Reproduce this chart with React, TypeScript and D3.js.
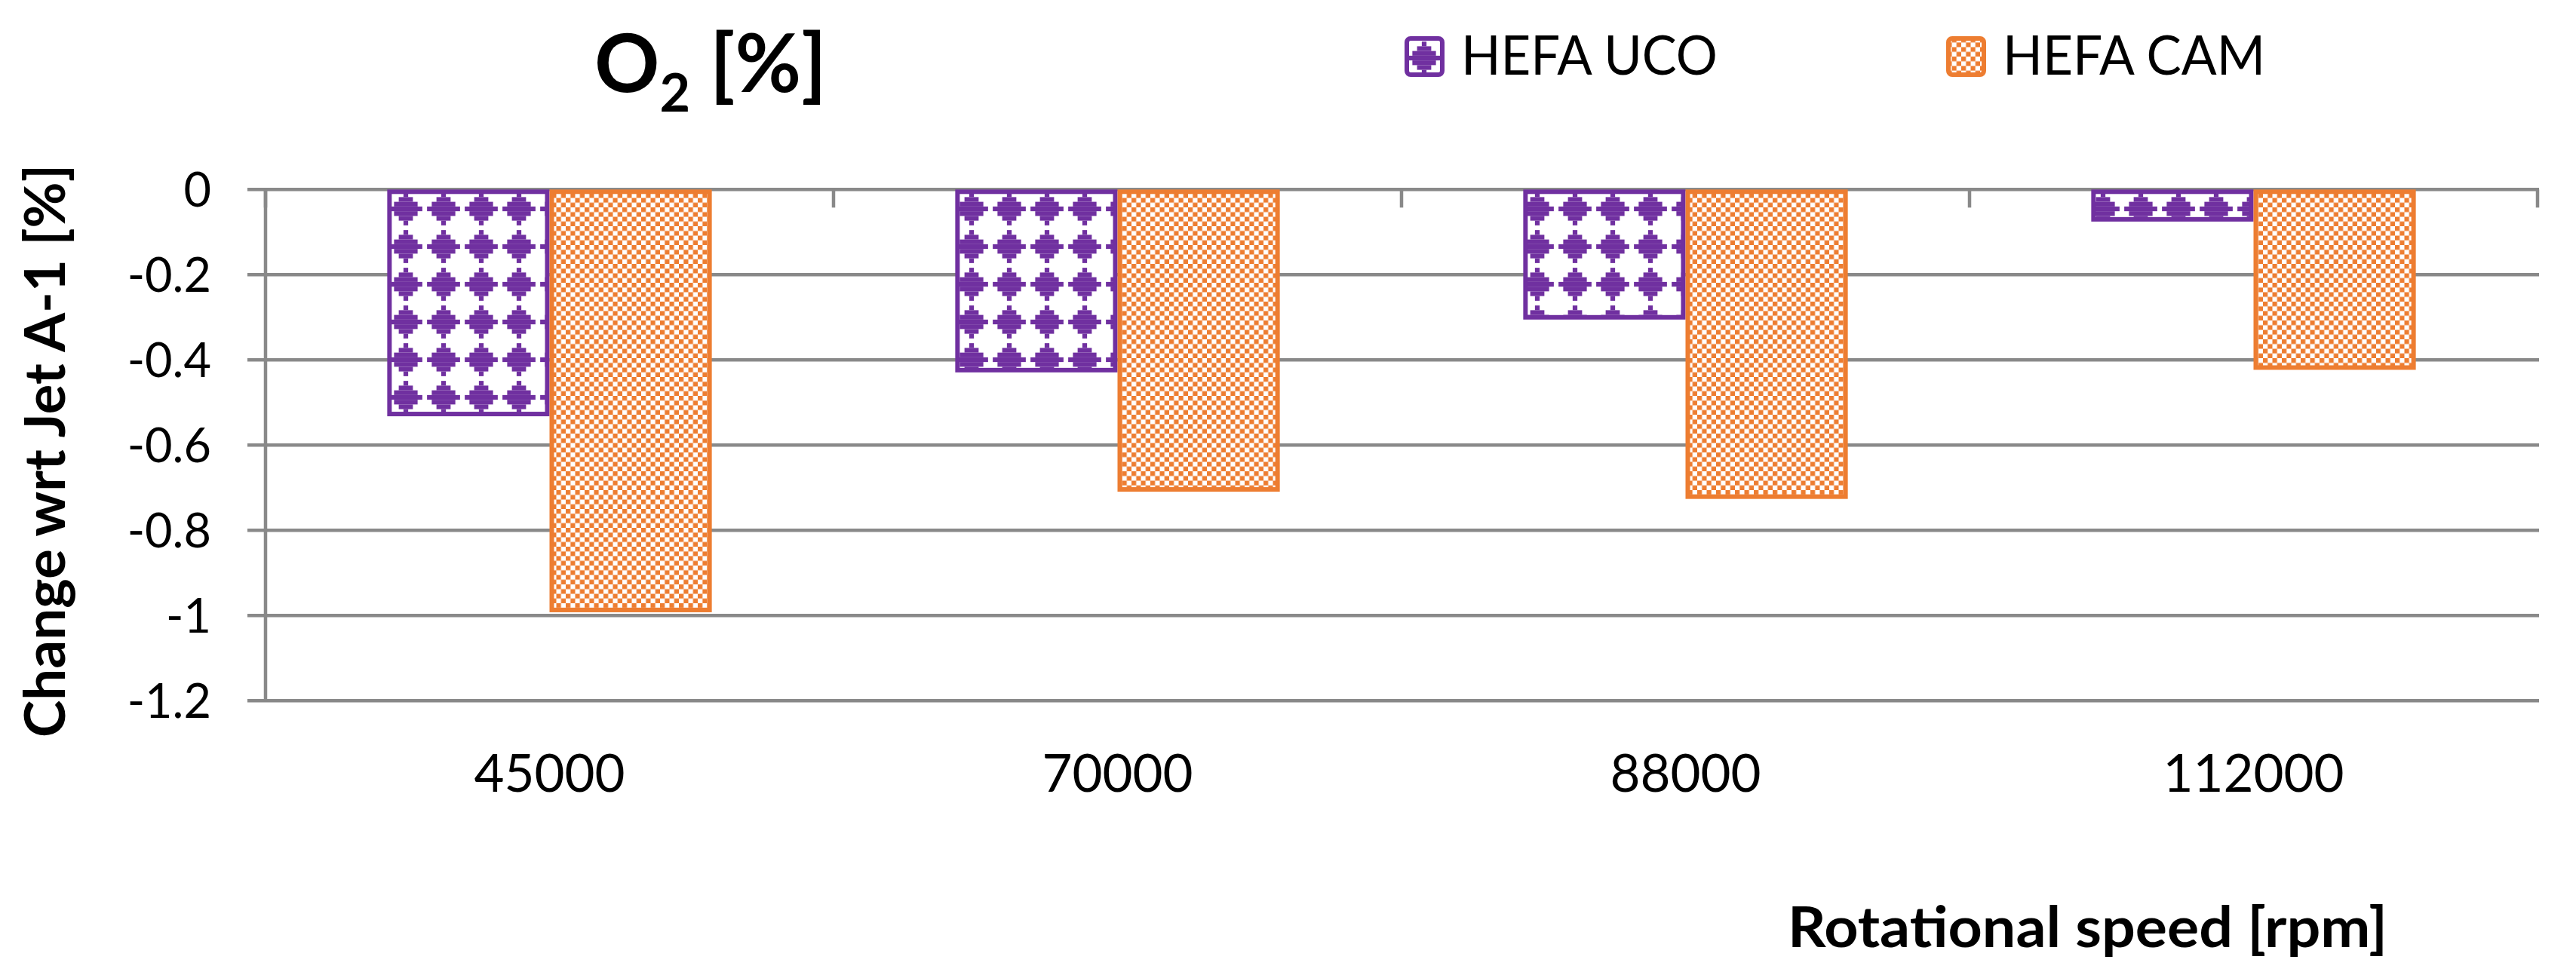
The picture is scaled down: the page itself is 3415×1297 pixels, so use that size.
import * as d3 from "d3";
import { useEffect, useRef } from "react";

const categories = ["45000", "70000", "88000", "112000"];
const seriesNames = ["HEFA UCO", "HEFA CAM"];
const hefaUco = [-0.527, -0.424, -0.3, -0.07];
const hefaCam = [-0.987, -0.704, -0.721, -0.418];
const yTicks = [0, -0.2, -0.4, -0.6, -0.8, -1, -1.2];

const W = 3415;
const H = 1297;
const PURPLE = "#7030A0";
const ORANGE = "#ED7D31";
const GRID = "#898989";
const FONT = "Lato, 'Open Sans', sans-serif";

const App = () => {
    const svgRef = useRef(null);

    useEffect(() => {
        const svg = d3.select(svgRef.current);
        svg.selectAll("*").remove();

        const x = d3.scaleBand().domain(categories).range([352, 3364]).padding(0);
        const xs = d3.scaleBand().domain(seriesNames).range([0, x.bandwidth()])
            .paddingInner(0).paddingOuter(0.75);
        const y = d3.scaleLinear().domain([0, -1.2]).range([251.3, 929.3]);

        // patterns
        const defs = svg.append("defs");
        const bit = 6.25;
        const dia = defs.append("pattern")
            .attr("id", "diamonds")
            .attr("patternUnits", "userSpaceOnUse")
            .attr("x", 13).attr("y", 2)
            .attr("width", bit * 8).attr("height", bit * 8);
        dia.append("rect").attr("width", bit * 8).attr("height", bit * 8).attr("fill", "#fff");
        [1, 3, 5, 7, 5, 3, 1].forEach((w, r) => {
            dia.append("rect")
                .attr("x", bit * 4 - (w * bit) / 2)
                .attr("y", bit * 0.5 + r * bit)
                .attr("width", w * bit)
                .attr("height", bit)
                .attr("fill", PURPLE);
        });

        const chk = defs.append("pattern")
            .attr("id", "checker")
            .attr("patternUnits", "userSpaceOnUse")
            .attr("width", bit * 2).attr("height", bit * 2);
        chk.append("rect").attr("width", bit * 2).attr("height", bit * 2).attr("fill", "#fff");
        chk.append("rect").attr("width", bit).attr("height", bit).attr("fill", ORANGE);
        chk.append("rect").attr("x", bit).attr("y", bit).attr("width", bit).attr("height", bit).attr("fill", ORANGE);

        const x0 = x.range()[0];
        const x1 = x.range()[1] + 2;

        // gridlines
        svg.append("g")
            .selectAll("line")
            .data(yTicks)
            .enter()
            .append("line")
            .attr("x1", x0 - 24)
            .attr("x2", x1)
            .attr("y1", d => y(d))
            .attr("y2", d => y(d))
            .attr("stroke", GRID)
            .attr("stroke-width", 4.5);

        // y axis line
        svg.append("line")
            .attr("x1", x0).attr("x2", x0)
            .attr("y1", y(0)).attr("y2", y(-1.2))
            .attr("stroke", GRID).attr("stroke-width", 4.5);

        // category ticks on the zero line
        const bounds = categories.map(c => x(c)).concat([x.range()[1]]);
        svg.append("g")
            .selectAll("line")
            .data(bounds)
            .enter()
            .append("line")
            .attr("x1", d => d).attr("x2", d => d)
            .attr("y1", y(0)).attr("y2", y(0) + 24)
            .attr("stroke", GRID).attr("stroke-width", 4.5);

        // bars
        const series = [
            { name: seriesNames[0], values: hefaUco, color: PURPLE, fill: "url(#diamonds)" },
            { name: seriesNames[1], values: hefaCam, color: ORANGE, fill: "url(#checker)" }
        ];
        series.forEach(s => {
            svg.append("g")
                .selectAll("rect")
                .data(categories)
                .enter()
                .append("rect")
                .attr("x", (c) => x(c) + xs(s.name) + 3)
                .attr("y", y(0) + 3)
                .attr("width", xs.bandwidth() - 6)
                .attr("height", (c, i) => y(s.values[i]) - y(0) - 3)
                .attr("fill", s.fill)
                .attr("stroke", s.color)
                .attr("stroke-width", 6);
        });

        // y tick labels
        svg.append("g")
            .selectAll("text")
            .data(yTicks)
            .enter()
            .append("text")
            .attr("x", 280)
            .attr("y", d => y(d))
            .attr("dy", "0.36em")
            .attr("text-anchor", "end")
            .style("font-family", FONT)
            .style("font-size", "63px")
            .text(d => String(+d.toFixed(1)));

        // x tick labels
        svg.append("g")
            .selectAll("text")
            .data(categories)
            .enter()
            .append("text")
            .attr("x", d => x(d) + x.bandwidth() / 2)
            .attr("y", 1050)
            .attr("text-anchor", "middle")
            .style("font-family", FONT)
            .style("font-size", "69px")
            .text(d => d);

        // title
        const title = svg.append("text")
            .attr("x", 788)
            .attr("y", 122)
            .style("font-family", FONT)
            .style("font-weight", "bold")
            .style("font-size", "107px");
        title.append("tspan").text("O");
        title.append("tspan").attr("dy", 26).style("font-size", "70px").text("2");
        title.append("tspan").attr("dy", -26).text(" [%]");

        // legend
        const legendX = [1862, 2580];
        const legendLen = [340, 348];
        series.forEach((s, i) => {
            svg.append("rect")
                .attr("x", legendX[i] + 3)
                .attr("y", 51)
                .attr("width", 47)
                .attr("height", 48)
                .attr("rx", 5)
                .attr("fill", s.fill)
                .attr("stroke", s.color)
                .attr("stroke-width", 6);
            svg.append("text")
                .attr("x", legendX[i] + 75)
                .attr("y", 99)
                .attr("textLength", legendLen[i])
                .attr("lengthAdjust", "spacingAndGlyphs")
                .style("font-family", FONT)
                .style("font-size", "72px")
                .text(s.name);
        });

        // axis titles
        svg.append("text")
            .attr("x", 2370)
            .attr("y", 1256)
            .attr("textLength", 795)
            .attr("lengthAdjust", "spacingAndGlyphs")
            .style("font-family", FONT)
            .style("font-weight", "bold")
            .style("font-size", "74px")
            .text("Rotational speed [rpm]");

        svg.append("text")
            .attr("transform", "translate(86, 598) rotate(-90)")
            .attr("x", -380)
            .attr("textLength", 760)
            .attr("lengthAdjust", "spacingAndGlyphs")
            .style("font-family", FONT)
            .style("font-weight", "bold")
            .style("font-size", "75px")
            .text("Change wrt Jet A-1 [%]");
    }, []);

    return (
        <div style={{ position: "absolute", left: 0, top: 0 }}>
            <svg ref={svgRef} width={W} height={H} style={{ display: "block", background: "#fff" }} />
        </div>
    );
};

export default App;
